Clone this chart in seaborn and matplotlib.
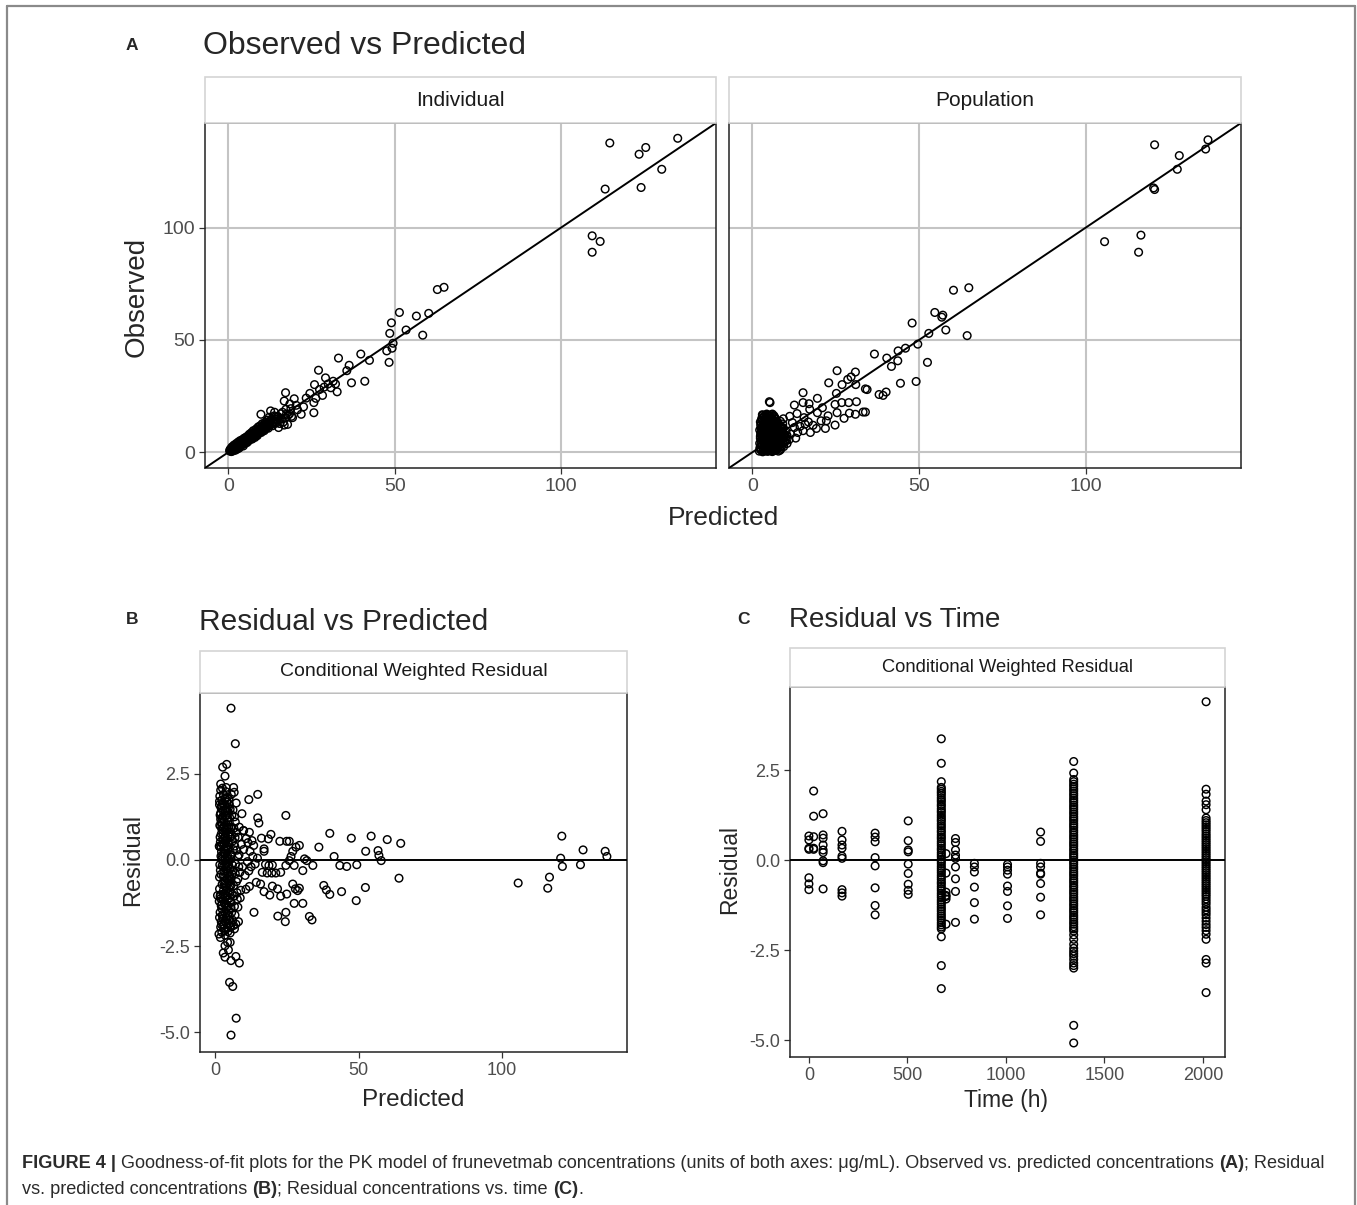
import numpy as np
import pandas as pd
import matplotlib
matplotlib.use('Agg')
import matplotlib.pyplot as plt
import seaborn as sns
from matplotlib.patches import Rectangle
from matplotlib.lines import Line2D

# ---------------- data ----------------
# Panel A - Individual predictions
ind_pred = [0.4, 0.7, 0.9, 1.1, 1.2, 1.4, 1.5, 1.7, 1.8, 2.0,
            2.1, 2.3, 2.4, 2.6, 2.7, 2.9, 3.0, 3.2, 3.3, 3.5,
            3.6, 3.8, 3.9, 4.1, 4.2, 4.4, 4.5, 4.7, 4.8, 5.0,
            5.1, 5.3, 5.4, 5.6, 5.7, 5.9, 6.0, 6.2, 6.3, 6.5,
            6.6, 6.8, 6.9, 7.1, 7.2, 7.4, 7.5, 7.7, 7.8, 8.0,
            8.1, 8.3, 8.4, 8.6, 8.7, 8.9, 9.0, 9.2, 9.3, 9.5,
            9.6, 9.8, 9.9, 10.1, 10.2, 10.4, 10.5, 10.7, 10.8, 11.0,
            11.1, 11.3, 11.4, 11.6, 11.7, 11.9, 12.0, 12.2, 12.3, 12.5,
            12.7, 12.9, 13.1, 13.3, 13.5, 13.8, 14.0, 14.3, 14.6, 15.0,
            15.4, 16.0, 16.5, 17.2, 17.8, 18.4, 19.0, 18.5, 20.8, 22.6,
            23.4, 26.3, 28.8, 30.8, 31.5, 13.9, 15.8, 14.8, 18.0, 9.8,
            12.7, 15.1, 16.8, 19.3, 17.3, 21.9, 20.4, 19.8, 16.8, 17.2,
            25.7, 25.7, 24.5, 28.3, 27.4, 25.9, 32.7, 32.2, 30.0, 29.2,
            27.1, 37.0, 41.0, 35.6, 36.3, 33.1, 39.8, 42.4, 48.3, 47.6,
            49.2, 49.5, 58.4, 53.4, 48.5, 49.0, 51.4, 56.5, 60.2, 62.8,
            64.8, 109.3, 111.7, 109.3, 113.2, 124.0, 130.2, 123.4, 125.4, 114.6,
            135.0]
ind_obs = [0.6, 1.5, 0.3, 2.4, 1.0, 0.6, 1.9, 3.2, 1.2, 2.6,
           0.9, 1.8, 3.9, 2.2, 1.4, 3.1, 4.6, 2.5, 1.9, 3.8,
           5.2, 2.9, 4.1, 3.3, 5.6, 4.0, 2.8, 5.1, 6.3, 3.9,
           4.8, 6.6, 5.4, 4.3, 7.1, 5.9, 4.9, 6.5, 8.0, 5.6,
           7.2, 6.1, 8.7, 7.4, 5.9, 8.2, 9.6, 7.0, 8.5, 6.6,
           9.1, 7.8, 10.4, 8.9, 7.4, 9.8, 11.3, 8.5, 10.1, 9.0,
           11.8, 10.5, 8.8, 11.1, 12.7, 9.9, 10.9, 12.1, 9.6, 11.6,
           13.4, 10.8, 12.3, 11.0, 14.3, 12.6, 10.7, 13.1, 15.6, 11.9,
           13.8, 12.4, 14.9, 11.8, 13.5, 16.2, 12.9, 14.7, 13.2, 15.8,
           12.8, 14.8, 13.4, 15.3, 12.4, 17.1, 16.0, 21.5, 18.9, 20.2,
           24.1, 24.0, 29.0, 28.7, 31.6, 17.8, 17.1, 15.9, 16.5, 16.9,
           18.4, 11.0, 12.1, 15.4, 19.1, 16.9, 20.9, 23.8, 22.8, 26.5,
           17.6, 22.1, 26.2, 25.3, 27.9, 30.1, 26.9, 30.4, 30.4, 33.1,
           36.5, 30.9, 31.6, 36.3, 38.7, 41.9, 43.7, 40.9, 40.0, 45.1,
           46.3, 48.5, 52.1, 54.4, 52.9, 57.6, 62.2, 60.6, 61.8, 72.4,
           73.4, 96.3, 93.8, 89.0, 117.1, 117.8, 125.9, 132.6, 135.6, 137.6,
           139.7]
# extra points of the crowded low-concentration cluster (Individual)
ind_pred_core = [0.5, 0.8, 1.0, 1.3, 1.6, 1.9, 2.2, 2.5, 2.8, 3.1,
                 3.4, 3.7, 4.0, 4.3, 4.6, 4.9, 5.2, 5.5, 5.8, 6.1,
                 6.4, 6.7, 7.0, 7.3, 7.6, 7.9, 8.2, 8.5, 8.8, 9.1,
                 9.4, 9.7, 10.0, 10.3, 10.6, 10.9, 11.2, 11.5, 11.8, 12.1,
                 1.2, 2.0, 2.9, 3.8, 4.7, 5.6, 6.5, 7.4, 8.3, 9.2,
                 10.1, 11.0, 12.4, 12.8, 13.6, 14.2, 15.6, 16.3, 17.5, 18.8]
ind_obs_core = [1.1, 0.5, 1.8, 2.0, 1.1, 2.9, 2.7, 1.8, 3.5, 2.2,
                4.4, 3.2, 4.8, 3.6, 5.7, 4.3, 5.9, 6.2, 5.1, 7.0,
                5.9, 7.8, 6.6, 8.5, 7.1, 9.0, 8.0, 9.5, 8.2, 10.3,
                9.1, 10.9, 10.2, 11.6, 10.0, 12.4, 11.3, 13.0, 11.5, 13.6,
                1.5, 2.1, 2.9, 4.0, 4.9, 5.7, 6.8, 7.6, 8.7, 9.3,
                10.4, 11.2, 12.9, 14.2, 12.9, 15.8, 15.1, 17.8, 17.0, 19.4]

# Panel A - Population predictions
pop_pred = [2.1, 2.3, 2.2, 2.4, 2.5, 2.6, 2.7, 2.8, 2.5, 2.9,
            3.0, 3.1, 3.2, 3.3, 3.4, 3.5, 3.1, 3.6, 3.7, 3.8,
            3.9, 4.0, 4.1, 4.2, 4.3, 4.0, 4.4, 4.5, 4.6, 4.7,
            4.8, 4.9, 5.0, 4.6, 5.1, 5.2, 5.3, 5.4, 5.5, 5.6,
            5.7, 5.8, 5.4, 5.9, 6.0, 6.1, 6.2, 6.3, 6.4, 6.0,
            6.5, 6.6, 6.7, 6.8, 6.9, 7.0, 7.1, 6.7, 7.2, 7.3,
            7.4, 7.5, 7.6, 7.7, 7.8, 7.9, 8.0, 8.1, 8.2, 8.3,
            8.5, 8.6, 8.8, 9.0, 9.2, 9.4, 9.6, 9.8, 10.1, 10.4,
            2.7, 3.3, 3.9, 4.9, 5.7, 7.1, 3.6, 4.4, 5.1, 5.9,
            6.4, 3.8, 4.7, 2.9, 6.6, 7.8, 8.4, 9.1, 2.4, 3.0,
            5.1, 5.3, 10.4, 11.5, 12.0, 12.6, 13.6, 15.2, 17.4, 12.6,
            15.2, 15.5, 15.8, 15.2, 17.2, 19.5, 19.2, 21.9, 20.6, 22.2,
            22.7, 24.8, 25.4, 27.5, 29.1, 30.9, 33.2, 33.9, 24.8, 26.8,
            28.9, 31.2, 19.5, 25.2, 22.9, 25.4, 26.9, 28.6, 29.6, 30.9,
            31.0, 33.9, 34.4, 38.0, 39.2, 40.1, 36.6, 40.3, 43.6, 41.7,
            43.7, 45.9, 49.6, 52.5, 49.1, 44.4, 47.9, 52.9, 58.0, 64.4,
            54.7, 57.1, 56.8, 60.3, 64.9, 105.6, 116.5, 115.8, 120.3, 120.6,
            127.4, 128.0, 120.6, 135.9, 136.6, 11.0, 13.0, 14.3, 16.8, 18.2,
            9.3, 11.2, 13.4, 17.0, 21.0]
pop_obs = [0.5, 2.1, 4.0, 6.2, 8.3, 10.5, 12.8, 15.0, 1.2, 3.3,
           5.5, 7.4, 9.6, 11.7, 13.9, 16.1, 0.2, 2.4, 4.6, 6.8,
           8.9, 11.0, 13.2, 15.3, 17.0, 1.0, 3.1, 5.3, 7.5, 9.7,
           11.9, 14.1, 16.4, 0.4, 2.0, 4.2, 6.3, 8.4, 10.6, 12.7,
           14.8, 16.6, 1.3, 3.4, 5.6, 7.8, 9.9, 12.1, 14.2, 0.3,
           1.7, 3.9, 6.0, 8.1, 10.3, 12.4, 14.6, 0.8, 2.6, 4.7,
           6.9, 9.1, 11.3, 13.2, 0.5, 3.0, 5.2, 7.3, 9.5, 11.6,
           1.4, 4.1, 6.2, 8.4, 10.5, 2.5, 5.0, 7.6, 9.3, 3.9,
           0.9, 1.8, 0.6, 0.9, 0.6, 1.2, 9.2, 12.5, 10.2, 11.5,
           15.8, 14.6, 16.2, 11.2, 13.0, 12.4, 13.8, 12.6, 13.5, 16.7,
           22.5, 22.1, 7.4, 8.1, 13.2, 11.0, 8.8, 9.6, 8.8, 21.0,
           22.1, 15.4, 12.5, 26.5, 19.1, 17.6, 10.6, 10.6, 14.0, 14.0,
           16.2, 12.1, 17.6, 15.1, 17.4, 16.9, 17.9, 17.9, 21.3, 22.1,
           22.1, 22.5, 24.0, 26.2, 30.9, 36.3, 30.1, 32.4, 33.5, 35.7,
           30.1, 28.2, 27.9, 25.7, 25.3, 26.8, 43.7, 41.9, 40.7, 38.2,
           45.1, 46.3, 48.1, 40.0, 31.5, 30.7, 57.5, 52.9, 54.4, 51.9,
           62.2, 61.0, 60.1, 72.1, 73.2, 93.7, 96.6, 89.0, 117.6, 116.9,
           125.9, 132.0, 136.8, 134.9, 139.0, 5.6, 6.3, 11.5, 13.5, 12.0,
           14.9, 16.0, 17.2, 21.6, 19.8]
# extra points of the solid low-concentration blob (Population)
pop_pred_core = [2.3, 2.6, 2.9, 3.2, 3.5, 3.8, 4.1, 4.4, 4.7, 5.0,
                 5.3, 5.6, 5.9, 6.2, 6.5, 6.8, 7.1, 7.4, 7.7, 8.0,
                 2.2, 2.5, 2.8, 3.1, 3.4, 3.7, 4.0, 4.3, 4.6, 4.9,
                 5.2, 5.5, 5.8, 6.1, 6.4, 6.7, 7.0, 7.3, 7.6, 7.9,
                 8.2, 8.5, 8.8, 9.1, 2.4, 2.7, 3.0, 3.3, 3.6, 3.9,
                 4.2, 4.5, 4.8, 5.1, 5.4, 5.7, 6.0, 6.3, 6.6, 6.9,
                 7.2, 7.5, 7.8, 8.1, 8.4, 8.7, 9.0, 9.3, 9.7, 10.0,
                 2.6, 3.2, 3.8, 4.4, 5.0, 5.6, 6.2, 6.8, 7.4, 8.0,
                 3.5, 4.1, 4.7, 5.3, 5.9, 6.5, 7.1, 7.7, 8.3, 8.9,
                 2.9, 3.4, 4.6, 5.2, 6.1, 6.9, 7.6, 8.6, 9.5, 10.2]
pop_obs_core = [1.6, 3.8, 5.9, 8.0, 10.2, 12.3, 14.5, 16.5, 0.7, 2.9,
                5.0, 7.1, 9.3, 11.4, 13.6, 15.3, 0.9, 3.3, 5.5, 7.7,
                9.9, 12.0, 14.2, 16.4, 0.8, 3.0, 5.1, 7.3, 9.4, 11.6,
                13.7, 15.9, 2.3, 4.4, 6.6, 8.7, 10.9, 13.0, 1.8, 4.0,
                6.1, 8.2, 10.4, 4.7, 7.1, 9.2, 11.4, 13.5, 15.7, 1.9,
                4.1, 6.2, 8.3, 10.5, 12.6, 14.8, 17.0, 1.0, 3.2, 5.3,
                7.5, 9.6, 11.8, 2.1, 4.3, 6.5, 8.6, 10.8, 4.4, 6.7,
                7.8, 10.9, 13.1, 15.6, 7.0, 9.0, 12.8, 11.9, 12.0, 9.8,
                5.8, 8.0, 3.6, 1.1, 13.1, 16.2, 3.9, 6.2, 0.9, 2.9,
                14.3, 4.5, 13.6, 15.0, 10.2, 11.4, 10.0, 11.0, 7.2, 5.4]

# Panel B - conditional weighted residual vs predicted
res_pred = [1.7, 2.1, 2.5, 2.9, 3.3, 3.7, 4.1, 4.5, 4.9, 5.3,
            1.8, 2.2, 2.6, 3.0, 3.4, 3.8, 4.2, 4.6, 5.0, 5.4,
            1.9, 2.3, 2.7, 3.1, 3.5, 3.9, 4.3, 4.7, 5.1, 5.5,
            2.0, 2.4, 2.8, 3.2, 3.6, 4.0, 4.4, 4.8, 5.2, 5.6,
            1.6, 2.0, 2.4, 2.8, 3.2, 3.6, 4.0, 4.4, 4.8, 5.2,
            1.7, 2.1, 2.5, 2.9, 3.3, 3.7, 4.1, 4.5, 4.9, 5.3,
            5.7, 5.9, 6.0, 5.8, 5.9, 6.0, 5.8, 1.8, 2.2, 2.6,
            3.0, 3.4, 3.8, 4.2, 4.6, 5.0, 5.4, 2.3, 3.5, 4.3,
            1.9, 2.7, 3.1, 3.9, 4.7, 5.5, 2.0, 2.8, 3.6, 4.4,
            6.3, 6.6, 6.9, 7.2, 7.5, 7.8, 8.1, 8.4, 8.7, 9.0,
            6.4, 6.8, 7.1, 7.6, 8.0, 8.5, 9.2, 9.6, 10.0, 10.5,
            10.9, 11.3, 11.8, 12.2, 6.2, 7.0, 7.4, 8.8, 9.9, 10.8,
            11.5, 12.6, 13.2, 14.0, 14.8, 13.5,
            5.6, 7.1, 4.1, 2.7, 3.5, 2.0, 6.5, 6.7, 11.8, 14.9,
            9.4, 14.9, 15.3, 24.7, 40.0, 47.5, 54.4, 60.0, 64.7, 36.2,
            41.5, 43.5, 45.9, 49.4, 52.5, 56.8, 57.1, 57.9, 64.1, 52.4,
            49.2, 44.1, 40.0, 38.8, 37.9, 32.9, 33.8, 30.6, 27.6, 24.7,
            24.5, 21.9, 21.8, 22.9, 25.0, 27.1, 28.0, 28.8, 29.4, 13.6,
            12.0, 14.4, 15.9, 17.1, 19.1, 20.0, 22.9, 21.2, 19.8, 18.2,
            16.5, 17.6, 18.8, 20.0, 24.7, 25.9, 26.5, 27.1, 28.2, 29.4,
            27.6, 31.2, 32.0, 34.1, 30.6, 22.6, 25.0, 25.9, 19.5, 18.6,
            17.1, 17.1, 16.2, 12.0, 10.0, 12.9, 105.6, 115.9, 116.5, 120.8,
            120.4, 121.0, 128.2, 127.3, 135.9, 136.5,
            2.4, 1.4, 3.5, 4.4, 5.3, 2.9, 3.5, 4.7, 5.6, 7.3,
            8.5, 5.1, 6.2, 7.4, 5.6, 6.8, 7.3, 8.2, 8.0, 6.5, 0.9]
res_val = [1.85, 1.52, 1.21, 0.93, 0.64, 0.35, 0.08, -0.21, -0.49, -0.78,
           -1.06, -1.33, -1.62, -1.90, -2.05, 1.98, 1.67, 1.38, 1.09, 0.81,
           0.52, 0.24, -0.03, -0.32, -0.61, -0.89, -1.17, -1.46, -1.74, -1.95,
           2.02, 1.73, 1.44, 1.15, 0.87, 0.58, 0.29, 0.01, -0.27, -0.55,
           -0.84, -1.12, -1.41, -1.69, -1.98, 1.80, 1.49, 1.22, 0.95, 0.66,
           0.38, 0.11, -0.17, -0.45, -0.74, -1.02, -1.30, -1.58, -1.86, -2.12,
           1.90, 1.30, 0.71, 0.15, -0.41, -0.99, -1.53, 1.30, 0.75, 0.46,
           -0.62, -1.25, -0.15, 0.92, -0.93, 1.62, -1.22, -1.88, 1.42, -0.55,
           -0.30, 1.63, 0.19, -1.70, 0.50, 0.02, 0.98, -1.14, 0.72, -1.98,
           1.45, 0.92, 0.40, -0.12, -0.63, -1.14, 0.66, 0.15, -0.36, -0.88,
           -0.30, -1.35, 1.10, 0.28, -0.55, 0.95, 0.45, -0.20, 0.30, -0.45,
           0.62, -0.05, -0.32, 0.25, -1.75, -1.60, 1.65, -1.10, 0.85, -0.85,
           0.50, -0.20, 0.10, -0.12, 0.05, 0.42,
           4.40, 3.37, 2.77, 2.69, 2.43, 2.20, 2.10, 1.96, 1.75, 1.90,
           1.34, 1.22, 1.07, 1.29, 0.77, 0.63, 0.69, 0.59, 0.48, 0.37,
           0.10, -0.16, -0.19, -0.14, 0.25, 0.27, 0.13, -0.02, -0.53, -0.80,
           -1.18, -0.92, -1.00, -0.87, -0.74, -1.64, -1.74, -1.26, -1.26, -1.52,
           -1.79, -1.63, -0.84, -1.05, -0.99, -0.70, -0.84, -0.89, -0.82, -1.52,
           -0.77, -0.65, -0.70, -0.92, -1.02, -0.76, -0.36, -0.38, -0.38, -0.38,
           -0.36, -0.13, -0.16, -0.15, -0.16, -0.02, 0.10, 0.25, 0.37, 0.42,
           -0.16, 0.03, -0.02, -0.16, -0.31, 0.54, 0.54, 0.54, 0.74, 0.61,
           0.32, 0.25, 0.63, 0.80, 0.85, 0.56, -0.67, -0.82, -0.50, 0.69,
           0.05, -0.19, 0.29, -0.14, 0.25, 0.10,
           -2.10, -2.15, -2.49, -2.39, -2.39, -2.70, -2.82, -2.61, -2.92, -2.80,
           -2.99, -3.55, -3.67, -4.59, -5.08, -2.00, -1.86, -1.79, -1.37, -1.90, -1.03]
# extra points of the crowded column at low predictions
res_pred_core = [1.6, 2.0, 2.4, 2.8, 3.2, 3.6, 4.0, 4.4, 4.8, 5.2,
                 5.6, 1.8, 2.2, 2.6, 3.0, 3.4, 3.8, 4.2, 4.6, 5.0,
                 5.4, 1.7, 2.1, 2.5, 2.9, 3.3, 3.7, 4.1, 4.5, 4.9,
                 5.3, 2.0, 2.4, 2.8, 3.2, 3.6, 4.0, 4.4, 4.8, 5.2,
                 5.6, 1.6, 2.0, 2.4, 2.8, 3.2, 3.6, 4.0, 4.4, 4.8,
                 5.2, 5.6, 1.9, 2.3, 2.7, 3.1, 3.5, 3.9, 4.3, 4.7,
                 5.1, 5.5, 1.8, 2.2, 2.6, 3.0, 3.4, 3.8, 4.2, 4.6,
                 5.0, 5.4, 6.2, 6.5, 6.8, 7.1, 7.4, 7.7, 8.0, 8.3,
                 2.5, 3.0, 3.5, 4.0, 4.5, 5.0, 2.2, 3.7, 4.9, 5.8,
                 1.5, 1.6, 1.7, 1.5, 1.6, 1.9, 6.1, 6.4, 6.7, 7.0]
res_val_core = [1.70, 1.36, 1.05, 0.76, 0.47, 0.19, -0.10, -0.38, -0.66, -0.95,
                -1.23, -1.52, -1.79, 2.08, 1.88, 1.58, 1.29, 1.00, 0.72, 0.43,
                0.14, -0.14, -0.42, -0.71, -0.99, -1.28, -1.56, -1.84, -2.08, 1.76,
                1.47, 1.18, 0.89, 0.60, 0.32, 0.03, -0.25, -0.53, -0.82, -1.10,
                -1.39, -1.67, -1.95, 1.57, 1.27, 0.98, 0.69, 0.41, 0.12, -0.16,
                -0.45, -0.73, -1.01, -1.30, -1.58, -1.87, -2.18, 2.10, 1.81, 1.52,
                1.23, 0.94, 0.66, 0.37, 0.09, -0.20, -0.48, -0.77, -1.05, -1.34,
                -1.62, -1.91, 0.55, -0.75, 1.25, -0.40, 0.80, -0.95, 0.10, -0.20,
                0.02, -0.88, 1.75, -1.40, 0.33, -0.60, 1.10, 0.55, -1.75, 0.95,
                0.40, -0.50, 1.00, -1.20, 1.60, -2.25, -0.15, 0.30, -1.05, 0.65]

# Panel C - residuals grouped by sampling time (h)
time_points = [0, 24, 72, 168, 336, 504, 672, 696, 744, 840, 1008, 1176, 1344, 2016]
res_t0 = [0.67, 0.56, 0.33, 0.30, -0.49, -0.66, -0.82]
res_t24 = [1.92, 1.22, 0.65, 0.33, 0.30]
res_t72 = [1.29, 0.70, 0.61, 0.42, 0.28, 0.21, -0.02, -0.07, -0.80]
res_t168 = [0.80, 0.56, 0.42, 0.33, 0.11, 0.05, -0.82, -0.91, -1.00]
res_t336 = [0.75, 0.64, 0.51, 0.07, -0.16, -0.77, -1.26, -1.52]
res_t504 = [1.09, 0.54, 0.28, 0.23, -0.11, -0.37, -0.67, -0.84, -0.95]
res_t672 = [3.37, 2.69, 2.18, 2.02, 1.97, 1.91, 1.86, 1.80, 1.73, 1.67,
            1.62, 1.55, 1.50, 1.43, 1.37, 1.32, 1.25, 1.19, 1.13, 1.08,
            1.01, 0.95, 0.89, 0.82, 0.77, 0.70, 0.64, 0.59, 0.52, 0.46,
            0.40, 0.33, 0.28, 0.21, 0.15, 0.09, 0.02, -0.04, -0.10, -0.17,
            -0.23, -0.29, -0.35, -0.42, -0.48, -0.54, -0.61, -0.66, -0.73, -0.79,
            -0.85, -0.92, -0.98, -1.04, -1.11, -1.17, -1.23, -1.30, -1.36, -1.42,
            -1.49, -1.55, -1.61, -1.67, -1.74, -1.80, -1.86, -1.91, -2.13, -2.93, -3.57]
res_t696 = [0.18, -0.36, -0.89, -0.98, -1.01, -1.08, -1.78]
res_t744 = [0.60, 0.49, 0.28, 0.14, 0.05, -0.19, -0.52, -0.87, -1.73]
res_t840 = [-0.09, -0.19, -0.33, -0.75, -1.18, -1.64]
res_t1008 = [-0.12, -0.19, -0.28, -0.39, -0.72, -0.87, -1.27, -1.62]
res_t1176 = [0.78, 0.52, -0.09, -0.19, -0.36, -0.39, -0.65, -1.03, -1.52]
res_t1344 = [2.74, 2.42, 2.24, 2.18, 2.11, 2.05, 1.98, 1.92, 1.85, 1.79,
             1.72, 1.66, 1.60, 1.53, 1.47, 1.41, 1.34, 1.28, 1.21, 1.15,
             1.09, 1.02, 0.96, 0.90, 0.83, 0.77, 0.70, 0.64, 0.58, 0.51,
             0.45, 0.39, 0.32, 0.26, 0.19, 0.13, 0.07, 0.00, -0.06, -0.12,
             -0.19, -0.25, -0.32, -0.38, -0.44, -0.51, -0.57, -0.63, -0.70, -0.76,
             -0.83, -0.89, -0.95, -1.02, -1.08, -1.14, -1.21, -1.27, -1.34, -1.40,
             -1.46, -1.53, -1.59, -1.65, -1.72, -1.78, -1.85, -1.91, -1.97, -2.08,
             -2.20, -2.34, -2.45, -2.53, -2.60, -2.67, -2.76, -2.86, -2.93, -3.00,
             -4.59, -5.08]
res_t2016 = [4.40, 1.97, 1.83, 1.64, 1.54, 1.40, 1.17, 1.10, 1.04, 0.98,
             0.92, 0.86, 0.80, 0.73, 0.67, 0.61, 0.55, 0.49, 0.43, 0.37,
             0.31, 0.25, 0.19, 0.13, 0.07, 0.01, -0.05, -0.11, -0.17, -0.23,
             -0.29, -0.35, -0.41, -0.47, -0.53, -0.59, -0.65, -0.71, -0.77, -0.83,
             -0.89, -0.95, -1.01, -1.08, -1.15, -1.22, -1.31, -1.38, -1.45, -1.52,
             -1.61, -1.70, -1.79, -1.87, -1.96, -2.06, -2.20, -2.76, -2.86, -3.68]
res_by_time = [res_t0, res_t24, res_t72, res_t168, res_t336, res_t504, res_t672,
               res_t696, res_t744, res_t840, res_t1008, res_t1176, res_t1344, res_t2016]

# ---------------- figure ----------------
sns.set_theme(style='white')
plt.rcParams['font.family'] = ['Liberation Sans', 'DejaVu Sans']
plt.rcParams['axes.unicode_minus'] = False

W, H = 1357, 1205
fig = plt.figure(figsize=(W / 100, H / 100), dpi=100)
fig.patch.set_facecolor('white')


def px_axes(x0, y0, x1, y1):
    return fig.add_axes([x0 / W, 1 - y1 / H, (x1 - x0) / W, (y1 - y0) / H])


def strip(x0, y0, x1, y1, label, size):
    fig.patches.append(Rectangle((x0 / W, 1 - y1 / H), (x1 - x0) / W, (y1 - y0) / H,
                                 transform=fig.transFigure, facecolor='white',
                                 edgecolor='#d4d4d4', lw=1.2, zorder=0))
    fig.text((x0 + x1) / 2 / W, 1 - (y0 + y1) / 2 / H, label, ha='center', va='center',
             fontsize=size, color='#1a1a1a')


def style_axes(ax, grid, tick_size):
    for sp in ax.spines.values():
        sp.set_visible(True)
        sp.set_color('#222222')
        sp.set_linewidth(1.1)
    ax.tick_params(axis='both', which='major', length=4, width=0.9, color='#333333',
                   labelsize=tick_size, labelcolor='#4d4d4d', pad=3, direction='out',
                   bottom=True, left=True)
    ax.set_xlabel('')
    ax.set_ylabel('')
    if grid:
        ax.grid(True, color='#c4c4c4', lw=1.5)
        ax.set_axisbelow(True)
    else:
        ax.grid(False)


pt_kw = dict(marker='o', s=30, facecolor='none', edgecolor='black', linewidth=1.05, legend=False)

# Panel A
ax_ind = px_axes(205, 123, 716, 468)
ax_pop = px_axes(729, 123, 1241, 468)
for ax, xs, ys, lab in [(ax_ind, ind_pred + ind_pred_core, ind_obs + ind_obs_core, 'Individual'),
                        (ax_pop, pop_pred + pop_pred_core, pop_obs + pop_obs_core, 'Population')]:
    sns.scatterplot(x=xs, y=ys, ax=ax, zorder=3, **pt_kw)
    ax.axline((0, 0), slope=1, color='black', lw=1.4, zorder=4)
    ax.set_xlim(-7, 146.5)
    ax.set_ylim(-7, 146.5)
    ax.set_xticks([0, 50, 100])
    ax.set_yticks([0, 50, 100])
    style_axes(ax, True, 14)
ax_pop.tick_params(axis='y', labelleft=False, length=0)
strip(205, 77, 716, 123, 'Individual', 15)
strip(729, 77, 1241, 123, 'Population', 15)

# Panel B
ax_b = px_axes(200, 693, 627, 1052)
sns.scatterplot(x=res_pred + res_pred_core, y=res_val + res_val_core, ax=ax_b, zorder=3, **pt_kw)
ax_b.axhline(0, color='black', lw=1.4, zorder=4)
ax_b.set_xlim(-5.2, 143.5)
ax_b.set_ylim(-5.57, 4.84)
ax_b.set_xticks([0, 50, 100])
ax_b.set_yticks([2.5, 0.0, -2.5, -5.0])
ax_b.set_yticklabels(['2.5', '0.0', '-2.5', '-5.0'])
style_axes(ax_b, False, 13)
strip(200, 651, 627, 693, 'Conditional Weighted Residual', 14)

# Panel C
time_df = pd.DataFrame({'time': [t for t, r in zip(time_points, res_by_time) for _ in r],
                        'res': [v for r in res_by_time for v in r]})
ax_c = px_axes(790, 687, 1225, 1057)
sns.scatterplot(data=time_df, x='time', y='res', ax=ax_c, zorder=3, **pt_kw)
ax_c.axhline(0, color='black', lw=1.4, zorder=4)
ax_c.set_xlim(-96, 2112)
ax_c.set_ylim(-5.47, 4.81)
ax_c.set_xticks([0, 500, 1000, 1500, 2000])
ax_c.set_yticks([2.5, 0.0, -2.5, -5.0])
ax_c.set_yticklabels(['2.5', '0.0', '-2.5', '-5.0'])
style_axes(ax_c, False, 13)
strip(790, 648, 1225, 687, 'Conditional Weighted Residual', 13.2)


def ftext(x, y, s, **kw):
    return fig.text(x / W, 1 - y / H, s, **kw)


# titles and panel letters
ftext(203, 46, 'Observed vs Predicted', fontsize=23, ha='left', va='center')
ftext(126, 46, 'A', fontsize=12.5, fontweight='bold', ha='left', va='center')
ftext(199, 622, 'Residual vs Predicted', fontsize=21.5, ha='left', va='center')
ftext(126, 620, 'B', fontsize=12.5, fontweight='bold', ha='left', va='center')
ftext(789, 620, 'Residual vs Time', fontsize=20, ha='left', va='center')
ftext(737, 620, 'C', fontsize=12.5, fontweight='bold', ha='left', va='center')

# axis titles
ftext(137, 297, 'Observed', fontsize=20, rotation=90, ha='center', va='center')
ftext(723, 518, 'Predicted', fontsize=19, ha='center', va='center')
ftext(133, 860, 'Residual', fontsize=17, rotation=90, ha='center', va='center')
ftext(413, 1100, 'Predicted', fontsize=17.5, ha='center', va='center')
ftext(730, 870, 'Residual', fontsize=16.5, rotation=90, ha='center', va='center')
ftext(1006, 1100, 'Time (h)', fontsize=16.5, ha='center', va='center')

# outer frame (top, left, right)
for xs, ys in [([7, 1355], [6, 6]), ([7, 7], [6, H]), ([1355, 1355], [6, H])]:
    fig.lines.append(Line2D([x / W for x in xs], [1 - y / H for y in ys],
                            transform=fig.transFigure, color='#8a8a8a', lw=1.6))

# caption with mixed bold
line1 = [('FIGURE 4 |', 'bold'),
         (' Goodness-of-fit plots for the PK model of frunevetmab concentrations (units of both axes: \u03bcg/mL). '
          'Observed vs. predicted concentrations ', 'normal'),
         ('(A)', 'bold'), ('; Residual', 'normal')]
line2 = [('vs. predicted concentrations ', 'normal'), ('(B)', 'bold'),
         ('; Residual concentrations vs. time ', 'normal'), ('(C)', 'bold'), ('.', 'normal')]

renderer = fig.canvas.get_renderer()


def draw_line(parts, x0, y, size):
    x = x0
    for s, w in parts:
        t = ftext(x, y, s, fontsize=size, fontweight=w, color='#2b2b2b', ha='left', va='center')
        bb = t.get_window_extent(renderer=renderer)
        x += bb.width
    return x - x0


# fit first line to its width in the reference
test = draw_line(line1, 0, -100, 10)
for t in fig.texts[-len(line1):]:
    t.remove()
cap_size = 10 * (1331 - 22) / test
draw_line(line1, 22, 1163, cap_size)
draw_line(line2, 22, 1189, cap_size)

fig.savefig('out.png', dpi=100, facecolor='white')
